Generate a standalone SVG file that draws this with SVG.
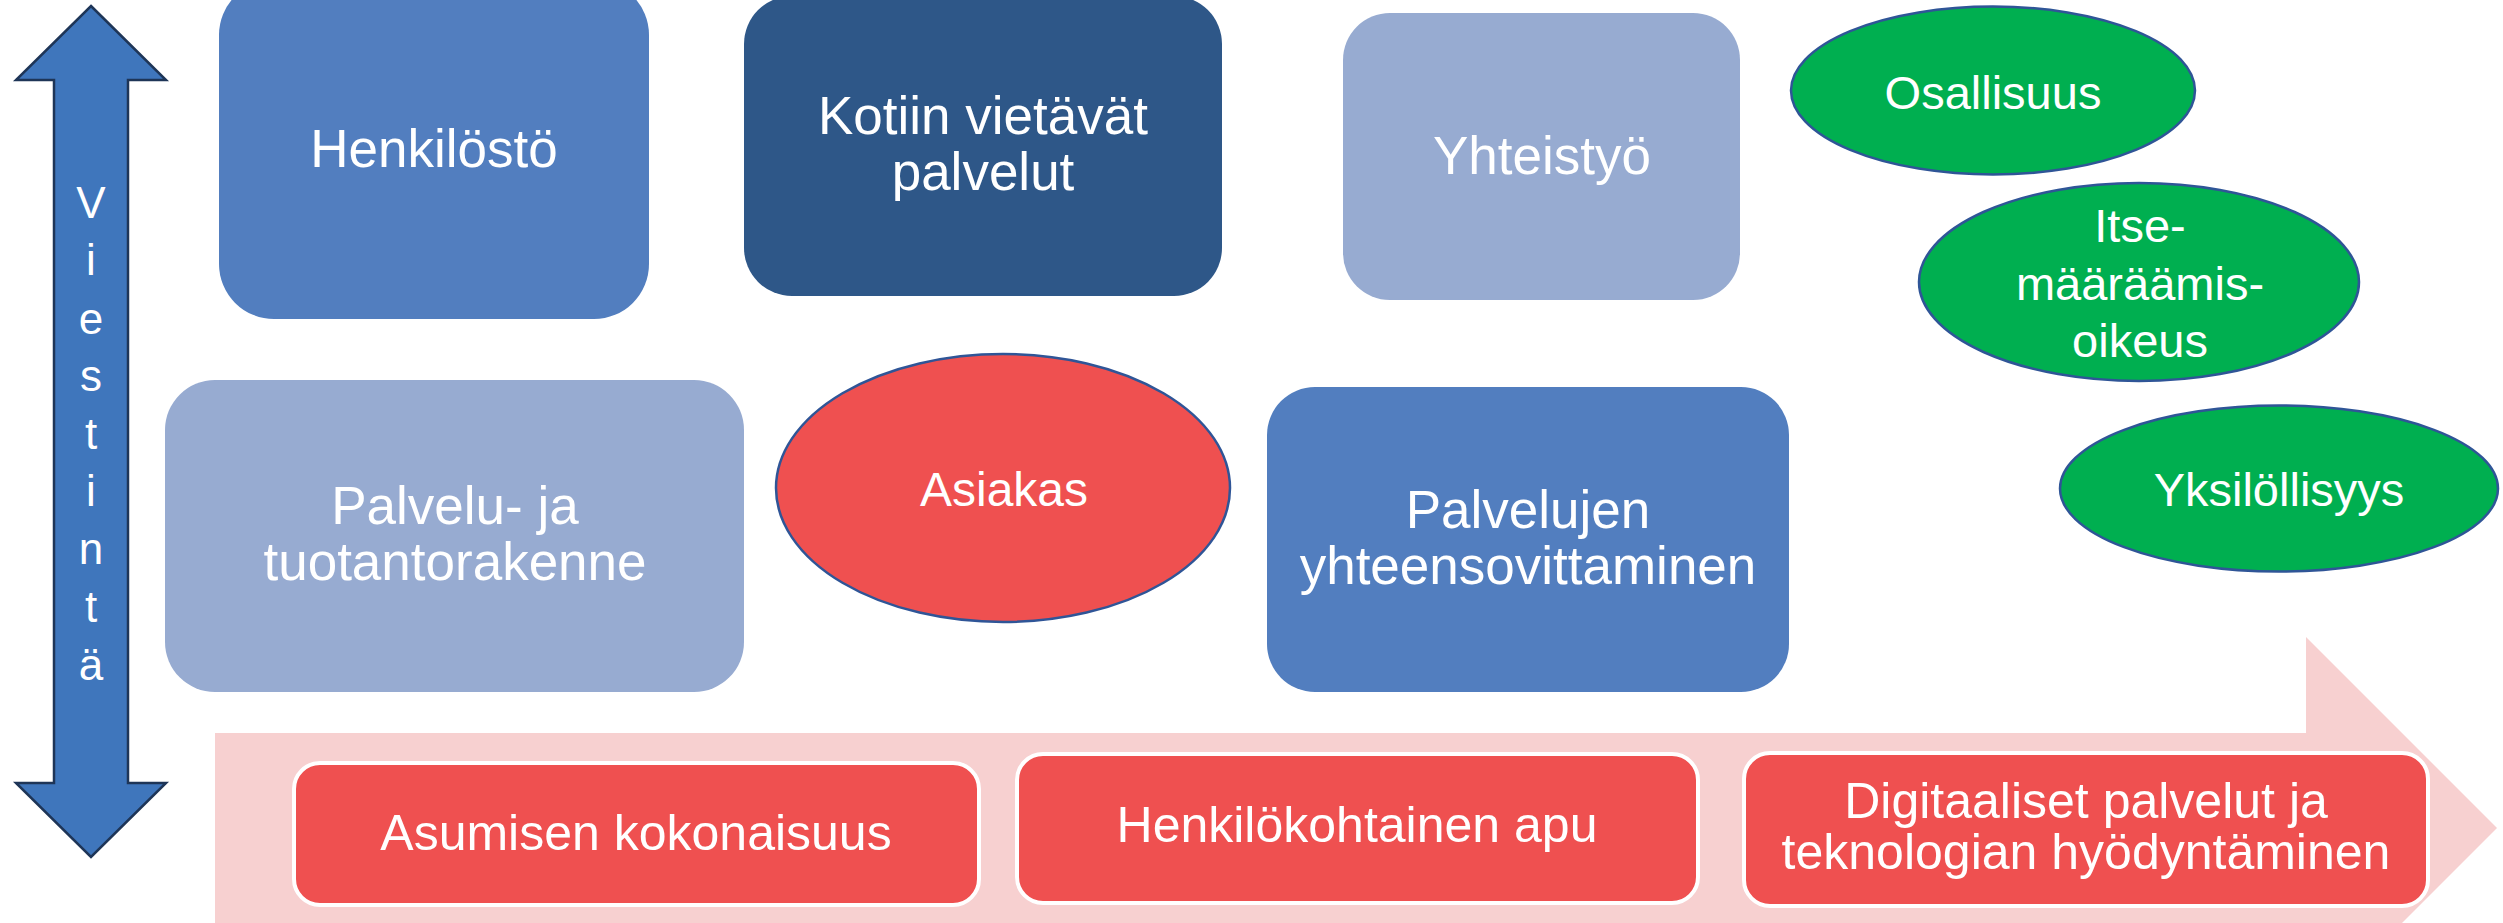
<svg xmlns="http://www.w3.org/2000/svg" width="2503" height="923" viewBox="0 0 2503 923">
<style>
text{font-family:"Liberation Sans",Arial,sans-serif;fill:#ffffff;text-anchor:middle}
.t53{font-size:53px}
.t50{font-size:50px}
.t47{font-size:47px}
.t48{font-size:48px}
.mid{fill:#527EBF}
.dark{fill:#2E5788}
.light{fill:#97ABD1}
.red{fill:#EF5050;stroke:#ffffff;stroke-width:4}
.ell{stroke:#2F5597;stroke-width:2.5}
.green{fill:#00AF50}
</style>
<rect x="0" y="0" width="2503" height="923" fill="#ffffff"/>
<g id="band">
<polygon points="215,733 2306,733 2306,637 2497,828 2402,923 215,923" fill="#F7D0D0"/>
</g>
<g id="viestinta">
<polygon points="91,6 166,80 128,80 128,783 166,783 91,857 16,783 54,783 54,80 16,80" fill="#3F76BC" stroke="#1E3557" stroke-width="2.5" stroke-linejoin="miter"/>
<text style="font-size:44px" x="91" y="218">V</text>
<text style="font-size:44px" x="91" y="275">i</text>
<text style="font-size:44px" x="91" y="334">e</text>
<text style="font-size:44px" x="91" y="391">s</text>
<text style="font-size:44px" x="91" y="449">t</text>
<text style="font-size:44px" x="91" y="506">i</text>
<text style="font-size:44px" x="91" y="564">n</text>
<text style="font-size:44px" x="91" y="622">t</text>
<text style="font-size:44px" x="91" y="680">ä</text>
</g>
<g id="henkilosto">
<rect class="mid" x="219" y="-20" width="430" height="339" rx="55" ry="55"/>
<text class="t53" x="434" y="167">Henkilöstö</text>
</g>
<g id="kotiin">
<rect class="dark" x="744" y="-4" width="478" height="300" rx="48" ry="48"/>
<text class="t53" x="983" y="134">Kotiin vietävät</text>
<text class="t53" x="983" y="190">palvelut</text>
</g>
<g id="yhteistyo">
<rect class="light" x="1343" y="13" width="397" height="287" rx="47" ry="47"/>
<text class="t53" x="1542" y="174">Yhteistyö</text>
</g>
<g id="palvelu">
<rect class="light" x="165" y="380" width="579" height="312" rx="50" ry="50"/>
<text class="t53" x="455" y="524">Palvelu- ja</text>
<text class="t53" x="455" y="580">tuotantorakenne</text>
</g>
<g id="asiakas">
<ellipse class="ell" fill="#EF5050" cx="1003" cy="488" rx="227" ry="134"/>
<text class="t48" x="1004" y="506">Asiakas</text>
</g>
<g id="palvelujen">
<rect class="mid" x="1267" y="387" width="522" height="305" rx="48" ry="48"/>
<text class="t53" x="1528" y="528">Palvelujen</text>
<text class="t53" x="1528" y="584">yhteensovittaminen</text>
</g>
<g id="osallisuus">
<ellipse class="ell green" cx="1993" cy="90.5" rx="202" ry="84"/>
<text class="t47" x="1993" y="109">Osallisuus</text>
</g>
<g id="itsemaaraamisoikeus">
<ellipse class="ell green" cx="2139" cy="282" rx="220" ry="99"/>
<text class="t47" x="2140" y="242">Itse-</text>
<text class="t47" x="2140" y="300">määräämis-</text>
<text class="t47" x="2140" y="357">oikeus</text>
</g>
<g id="yksilollisyys">
<ellipse class="ell green" cx="2279" cy="488.5" rx="219" ry="83"/>
<text class="t47" x="2279" y="506">Yksilöllisyys</text>
</g>
<g id="asumisen">
<rect class="red" x="294" y="763" width="685" height="142" rx="26" ry="26"/>
<text class="t50" x="636" y="850">Asumisen kokonaisuus</text>
</g>
<g id="henkilokohtainen">
<rect class="red" x="1017" y="754" width="681" height="149" rx="26" ry="26"/>
<text class="t50" x="1357" y="842">Henkilökohtainen apu</text>
</g>
<g id="digitaaliset">
<rect class="red" x="1744" y="753" width="684" height="153" rx="26" ry="26"/>
<text class="t50" x="2086" y="818">Digitaaliset palvelut ja</text>
<text class="t50" x="2086" y="869">teknologian hyödyntäminen</text>
</g>
<g id="connectors"></g>
</svg>
